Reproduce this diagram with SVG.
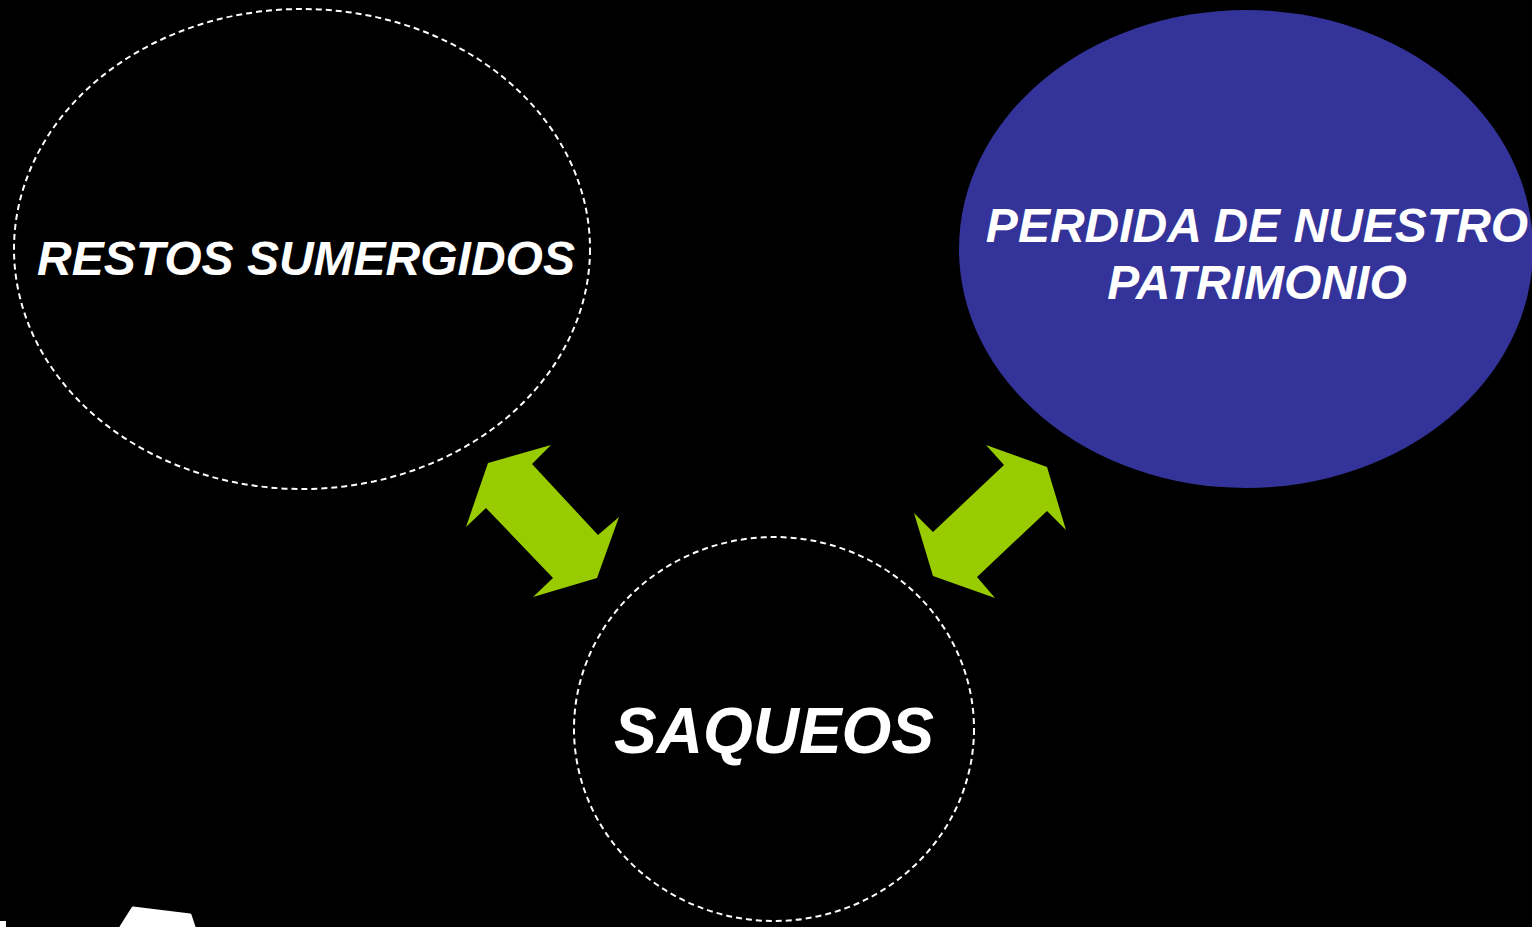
<svg xmlns="http://www.w3.org/2000/svg" width="1532" height="927" viewBox="0 0 1532 927">
<style>
.dash{fill:none;stroke:#fff;stroke-width:2;stroke-dasharray:6 4}
.lbl{font-family:"Liberation Sans",Arial,sans-serif;font-weight:bold;font-style:italic;fill:#fff;text-anchor:middle}
.arr{fill:#99cc00}
</style>
<rect width="1532" height="927" fill="#000"/>
<g id="restos">
<ellipse class="dash" cx="302" cy="249" rx="288" ry="240"/>
<text class="lbl" x="306" y="275" font-size="48">RESTOS SUMERGIDOS</text>
</g>
<g id="perdida">
<ellipse cx="1246" cy="249" rx="287" ry="239" fill="#333399"/>
<text class="lbl" x="1257" y="242" font-size="48">PERDIDA DE NUESTRO</text>
<text class="lbl" x="1257" y="299" font-size="48">PATRIMONIO</text>
</g>
<g id="saqueos">
<ellipse class="dash" cx="774" cy="729" rx="200" ry="192"/>
<text class="lbl" x="774" y="753" font-size="64">SAQUEOS</text>
</g>
<g id="connectors">
<polygon class="arr" points="488,463 551,445 532,464 598,535 619,517 597,578 533,597 553,578 486,508 466,527"/>
<polygon class="arr" points="1047,467 986,445 1004,465 933,532 914,513 933,576 995,598 977,577 1047,511 1066,530"/>
</g>
<polygon points="133,908 190,915 194,927 121,927" fill="#fff" stroke="#fff" stroke-width="3" stroke-linejoin="round"/>
<rect x="0" y="921" width="6" height="6" fill="#fff"/>
</svg>
